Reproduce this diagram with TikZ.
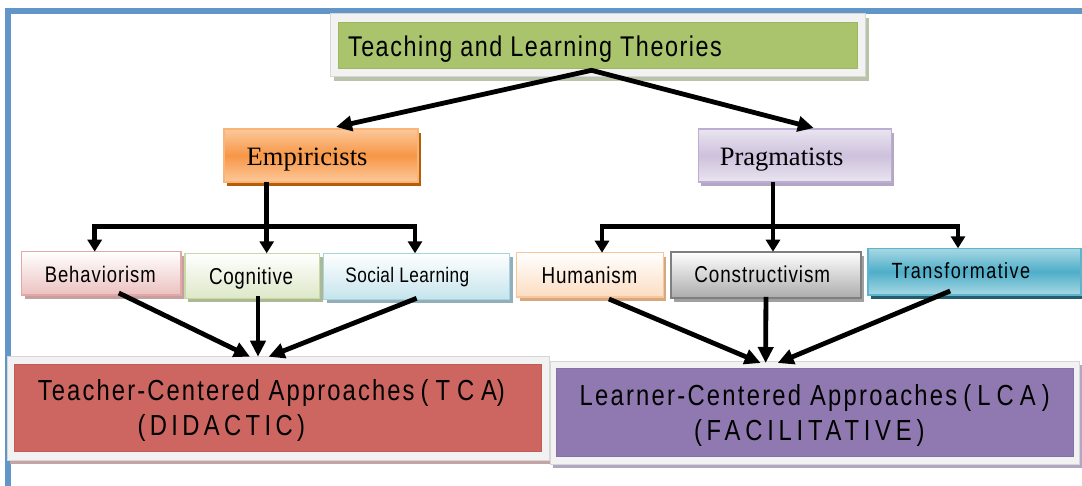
\documentclass[tikz,border=0pt]{standalone}
\usepackage{fontspec}
\setmainfont{Liberation Serif}
\newfontfamily\nar[FakeStretch=0.82]{Liberation Sans}
\newcommand\nfs[2]{\nar\fontsize{#1}{#1}\selectfont\addfontfeatures{LetterSpace=#2}}
\usetikzlibrary{arrows.meta,shadows}
\definecolor{frameblue}{HTML}{6396C8}
\definecolor{tgreen}{HTML}{AAC46E}
\definecolor{tgreenbd}{HTML}{9DB960}
\definecolor{paleframe}{HTML}{F2F2F2}
\definecolor{paleframebd}{HTML}{D6D6D6}
\definecolor{tshadow}{HTML}{B9C3A8}
\definecolor{orgtop}{HTML}{FCC99B}
\definecolor{orgmid}{HTML}{F79646}
\definecolor{orgbd}{HTML}{F9B47A}
\definecolor{orgsh}{HTML}{B45F06}
\definecolor{prtop}{HTML}{EAE5F0}
\definecolor{prmid}{HTML}{CDC1DC}
\definecolor{prbd}{HTML}{BCAED0}
\definecolor{prsh}{HTML}{B4A7C6}
\definecolor{behbot}{HTML}{EBC1C0}
\definecolor{behbd}{HTML}{E2A7A6}
\definecolor{behsh}{HTML}{C4A0A0}
\definecolor{cogbot}{HTML}{DEE8C8}
\definecolor{cogbd}{HTML}{C8DAA4}
\definecolor{cogsh}{HTML}{ADB994}
\definecolor{socbot}{HTML}{C5E4EC}
\definecolor{socbd}{HTML}{A3D4E1}
\definecolor{socsh}{HTML}{93AEB8}
\definecolor{humbot}{HTML}{FCDDC2}
\definecolor{humbd}{HTML}{F9C59A}
\definecolor{humsh}{HTML}{D7A87E}
\definecolor{conbot}{HTML}{ABABAB}
\definecolor{conbd}{HTML}{7F7F7F}
\definecolor{consh}{HTML}{A0A0A0}
\definecolor{tratop}{HTML}{A8D8E4}
\definecolor{tramid}{HTML}{4EAEC8}
\definecolor{trabd}{HTML}{5CB5CD}
\definecolor{trash}{HTML}{255E6B}
\definecolor{tcared}{HTML}{CD6660}
\definecolor{tcabd}{HTML}{C65B56}
\definecolor{tcash}{HTML}{C4A4A4}
\definecolor{lcapur}{HTML}{9079B0}
\definecolor{lcabd}{HTML}{8670A8}
\definecolor{lcash}{HTML}{B2A6C2}
\tikzset{
  bx/.style={rectangle, inner sep=0pt, outer sep=0pt, anchor=north west, line width=1.3pt},
  shd/.style={drop shadow={shadow xshift=3pt, shadow yshift=-4pt, opacity=1, fill=#1}},
  lbl/.style={anchor=base west, inner sep=0pt, outer sep=0pt},
  big/.style={line width=4.8pt, -{Triangle[length=16pt,width=15pt]}},
  small/.style={line width=4.5pt, -{Triangle[length=12pt,width=14pt]}},
  fork/.style={line width=4.5pt, line join=miter, {Triangle[length=12pt,width=14pt]}-{Triangle[length=12pt,width=14pt]}},
}
\begin{document}
\begin{tikzpicture}[x=1pt,y=-1pt]
\useasboundingbox (0,0) rectangle (1082,485);
\fill[white] (0,0) rectangle (1082,485);
\draw[frameblue, line width=6pt] (8.3,500) -- (8.3,11.4) -- (1100,11.4);

% title
\node[bx, minimum width=535pt, minimum height=62.7pt, fill=paleframe, draw=paleframebd, line width=0.8pt,
  drop shadow={shadow xshift=3pt, shadow yshift=-5pt, opacity=1, fill=tshadow}] (tframe) at (330.6,13.3) {};
\node[bx, minimum width=519pt, minimum height=46.3pt, fill=tgreen, draw=tgreenbd, line width=0.8pt] (title) at (338,22) {};

% second level
\node[bx, minimum width=194pt, minimum height=53pt, top color=orgtop, bottom color=orgtop, middle color=orgmid, draw=orgbd, shd=orgsh] (emp) at (224,129) {};
\node[bx, minimum width=192.8pt, minimum height=53pt, top color=prtop, bottom color=prtop, middle color=prmid, draw=prbd, shd=prsh] (prag) at (698.4,129) {};

% third level
\node[bx, minimum width=159.5pt, minimum height=43.3pt, top color=white, bottom color=behbot, draw=behbd, shd=behsh] (beh) at (21.5,251.7) {};
\node[bx, minimum width=134.5pt, minimum height=45pt, top color=white, bottom color=cogbot, draw=cogbd, shd=cogsh] (cog) at (185,253.3) {};
\node[bx, minimum width=185.9pt, minimum height=46pt, top color=white, bottom color=socbot, draw=socbd, shd=socsh] (soc) at (323.7,253.3) {};
\node[bx, minimum width=146.8pt, minimum height=44.3pt, top color=white, bottom color=humbot, draw=humbd, shd=humsh] (hum) at (516.5,252.7) {};
\node[bx, minimum width=190.1pt, minimum height=46.6pt, top color=white, bottom color=conbot, draw=conbd, line width=2pt, shd=consh] (con) at (670.9,251.7) {};
\node[bx, minimum width=213pt, minimum height=46.7pt, top color=tratop, bottom color=tratop, middle color=tramid, draw=trabd, shd=trash] (tra) at (868,248.3) {};

% bottom level
\node[bx, minimum width=542pt, minimum height=103.3pt, fill=paleframe, draw=paleframebd, line width=0.8pt, shd=tcash] (tcaf) at (7,356.7) {};
\node[bx, minimum width=526.5pt, minimum height=87.7pt, fill=tcared, draw=tcabd, line width=0.8pt] (tca) at (14.5,364) {};
\node[bx, minimum width=528.7pt, minimum height=103pt, fill=paleframe, draw=paleframebd, line width=0.8pt, shd=lcash] (lcaf) at (550.3,361) {};
\node[bx, minimum width=516.5pt, minimum height=88.4pt, fill=lcapur, draw=lcabd, line width=0.8pt] (lca) at (556.5,368.3) {};

% texts
\node[lbl, font=\nfs{28.5}{5.4}] (ttitle) at (348,56) {Teaching and Learning Theories};
\node[lbl, font=\fontsize{26.5}{28}\selectfont] (temp) at (246.7,165) {Empiricists};
\node[lbl, font=\fontsize{26.5}{28}\selectfont] (tprag) at (719.8,165.5) {Pragmatists};
\node[lbl, font=\nfs{22.5}{4.2}] (tbeh) at (44.8,282) {Behaviorism};
\node[lbl, font=\nfs{23}{3}] (tcog) at (209,284.3) {Cognitive};
\node[lbl, font=\nfs{21}{1.9}] (tsoc) at (345.4,282.7) {Social Learning};
\node[lbl, font=\nfs{23}{3.4}] (thum) at (541.7,283.3) {Humanism};
\node[lbl, font=\nfs{23}{4.1}] (tcon) at (694.3,282.7) {Constructivism};
\node[lbl, font=\nfs{22}{6.6}] (ttra) at (891.7,278.3) {Transformative};
\node[lbl, font=\nfs{29}{7.3}] (ttca1) at (37.9,400) {Teacher-Centered Approaches\hspace{6pt}{\addfontfeatures{LetterSpace=24}(TCA})};
\node[lbl, font=\nfs{29}{15}] (ttca2) at (137.7,435) {(DIDACTIC)};
\node[lbl, font=\nfs{29}{7.8}] (tlca1) at (579.6,405.7) {Learner-Centered Approaches\hspace{6pt}{\addfontfeatures{LetterSpace=21}(LCA)}};
\node[lbl, font=\nfs{29}{16.5}] (tlca2) at (694,440) {(FACILITATIVE)};

% junction points
\coordinate (ejL) at (94.7,226.7);
\coordinate (ejM) at (266.7,226.7);
\coordinate (ejR) at (415,226.7);
\coordinate (pjL) at (602,226.7);
\coordinate (pjM) at (773,226.7);
\coordinate (pjR) at (958,226.7);

% connectors
\draw[line width=4.8pt, line join=miter, {Triangle[length=16pt,width=15pt]}-{Triangle[length=16pt,width=15pt]}]
  ([xshift=15pt,yshift=2pt]emp.north) -- ([xshift=-6pt,yshift=-2pt]title.south) -- ([xshift=19pt,yshift=1pt]prag.north);

\draw[fork] (beh.north -| ejL) -- (ejL) -- (ejR) -- (soc.north -| ejR);
\draw[small] (emp.south -| ejM) -- (cog.north -| ejM);
\draw[fork] (hum.north -| pjL) -- (pjL) -- (pjR) -- (tra.north -| pjR);
\draw[small] (prag.south -| pjM) -- (con.north -| pjM);

\draw[big] ([xshift=17.5pt,yshift=2pt]beh.south) -- ([xshift=-28pt]tcaf.north);
\draw[big] ([xshift=5.75pt,yshift=2pt]cog.south) -- ([xshift=-20pt]tcaf.north);
\draw[big] ([yshift=1pt]soc.south) -- ([xshift=-9.4pt]tcaf.north);

\draw[big] ([xshift=19pt,yshift=-2pt]hum.south) -- ([xshift=-54pt,yshift=-2pt]lcaf.north);
\draw[big] ([yshift=1.5pt]con.south) -- ([xshift=-49pt,yshift=-2pt]lcaf.north);
\draw[big] ([xshift=-24.3pt,yshift=4pt]tra.south) -- ([xshift=-37pt,yshift=-2pt]lcaf.north);
\end{tikzpicture}
\end{document}
